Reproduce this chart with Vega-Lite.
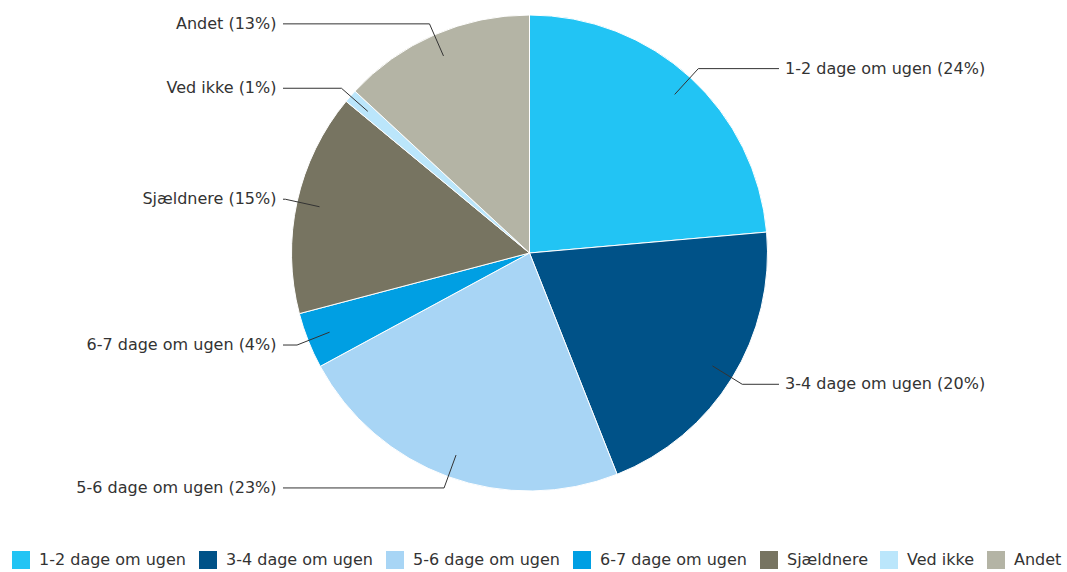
{
  "$schema": "https://vega.github.io/schema/vega-lite/v6.json",
  "width": 1059,
  "height": 506,
  "autosize": "none",
  "padding": {"left": 0, "top": 0, "right": 8, "bottom": 66},
  "background": "white",
  "config": {"view": {"stroke": null}, "font": "DejaVu Sans"},
  "data": {
    "values": [
      {"kategori": "1-2 dage om ugen", "pct": 23.6, "order": 1, "label": "1-2 dage om ugen (24%)"},
      {"kategori": "3-4 dage om ugen", "pct": 20.4, "order": 2, "label": "3-4 dage om ugen (20%)"},
      {"kategori": "5-6 dage om ugen", "pct": 23.1, "order": 3, "label": "5-6 dage om ugen (23%)"},
      {"kategori": "6-7 dage om ugen", "pct": 3.8, "order": 4, "label": "6-7 dage om ugen (4%)"},
      {"kategori": "Sjældnere", "pct": 15.1, "order": 5, "label": "Sjældnere (15%)"},
      {"kategori": "Ved ikke", "pct": 0.9, "order": 6, "label": "Ved ikke (1%)"},
      {"kategori": "Andet", "pct": 13.1, "order": 7, "label": "Andet (13%)"}
    ]
  },
  "transform": [
    {"window": [{"op": "sum", "field": "pct", "as": "cum"}], "sort": [{"field": "order"}], "frame": [null, 0]},
    {"calculate": "(datum.cum - datum.pct / 2) / 100 * 2 * PI", "as": "mid"},
    {"calculate": "215 * sin(datum.mid)", "as": "ix"},
    {"calculate": "215 * cos(datum.mid)", "as": "iy"},
    {"calculate": "250 * sin(datum.mid)", "as": "ex"},
    {"calculate": "250 * cos(datum.mid)", "as": "ey"},
    {"calculate": "datum.ex > 0 ? 249.5 : -246.5", "as": "cx"},
    {"calculate": "datum.ex > 0 ? 255.5 : -253", "as": "tx"}
  ],
  "layer": [
    {
      "mark": {"type": "arc", "outerRadius": 238, "stroke": "white", "strokeWidth": 1},
      "encoding": {
        "theta": {"field": "pct", "type": "quantitative", "stack": true},
        "order": {"field": "order", "type": "quantitative"},
        "color": {
          "field": "kategori",
          "type": "nominal",
          "sort": null,
          "scale": {
            "domain": ["1-2 dage om ugen", "3-4 dage om ugen", "5-6 dage om ugen", "6-7 dage om ugen", "Sjældnere", "Ved ikke", "Andet"],
            "range": ["#22c4f4", "#005288", "#a8d5f5", "#009fe3", "#777461", "#bbe6fb", "#b4b4a5"]
          },
          "legend": {
            "orient": "none",
            "legendX": 12,
            "legendY": 551,
            "direction": "horizontal",
            "title": null,
            "symbolType": "square",
            "symbolSize": 324,
            "symbolStrokeWidth": 0,
            "symbolOpacity": 1,
            "labelFontSize": 16,
            "labelFont": "DejaVu Sans",
            "labelColor": "#333333",
            "labelOffset": 9,
            "columnPadding": 12
          }
        }
      }
    },
    {
      "mark": {"type": "rule", "color": "#333333", "strokeWidth": 1},
      "encoding": {
        "x": {"field": "ix", "type": "quantitative", "scale": {"domain": [-529.5, 529.5], "nice": false, "zero": false}, "axis": null},
        "y": {"field": "iy", "type": "quantitative", "scale": {"domain": [-253, 253], "nice": false, "zero": false}, "axis": null},
        "x2": {"field": "ex"},
        "y2": {"field": "ey"}
      }
    },
    {
      "mark": {"type": "rule", "color": "#333333", "strokeWidth": 1},
      "encoding": {
        "x": {"field": "ex", "type": "quantitative", "scale": {"domain": [-529.5, 529.5], "nice": false, "zero": false}, "axis": null},
        "y": {"field": "ey", "type": "quantitative", "scale": {"domain": [-253, 253], "nice": false, "zero": false}, "axis": null},
        "x2": {"field": "cx"}
      }
    },
    {
      "transform": [{"filter": "datum.ex > 0"}],
      "mark": {"type": "text", "align": "left", "baseline": "middle", "fontSize": 16, "font": "DejaVu Sans", "color": "#333333"},
      "encoding": {
        "x": {"field": "tx", "type": "quantitative", "scale": {"domain": [-529.5, 529.5], "nice": false, "zero": false}, "axis": null},
        "y": {"field": "ey", "type": "quantitative", "scale": {"domain": [-253, 253], "nice": false, "zero": false}, "axis": null},
        "text": {"field": "label"}
      }
    },
    {
      "transform": [{"filter": "datum.ex <= 0"}],
      "mark": {"type": "text", "align": "right", "baseline": "middle", "fontSize": 16, "font": "DejaVu Sans", "color": "#333333"},
      "encoding": {
        "x": {"field": "tx", "type": "quantitative", "scale": {"domain": [-529.5, 529.5], "nice": false, "zero": false}, "axis": null},
        "y": {"field": "ey", "type": "quantitative", "scale": {"domain": [-253, 253], "nice": false, "zero": false}, "axis": null},
        "text": {"field": "label"}
      }
    }
  ]
}
